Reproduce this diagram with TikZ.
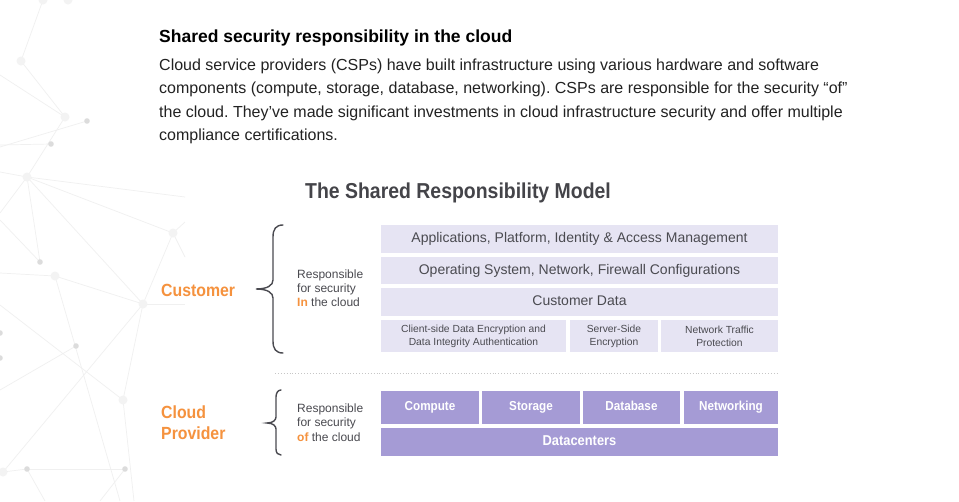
\documentclass[tikz,border=0pt]{standalone}
\usepackage{fontspec}
\setmainfont{Liberation Sans}
\newfontfamily\narrowsf[FakeStretch=0.9]{Liberation Sans}
\definecolor{lav}{HTML}{E6E4F3}
\definecolor{purp}{HTML}{A59BD5}
\definecolor{org}{HTML}{F5923E}
\definecolor{txt}{HTML}{4A4A50}
\definecolor{body}{HTML}{222222}
\definecolor{titlec}{HTML}{444449}
\definecolor{netline}{HTML}{F0F0F0}
\definecolor{netdot}{HTML}{DCDCDC}
\definecolor{netbig}{HTML}{F3F3F3}
\frenchspacing
\begin{document}
\begin{tikzpicture}[x=1pt,y=-1pt,
  lbox/.style={fill=lav, inner sep=0, text=txt, align=center, text height=10pt, text depth=3pt, font=\fontsize{14}{16}\selectfont},
  sbox/.style={fill=lav, inner sep=0, text=txt, align=center, font=\fontsize{10.3}{12.3}\selectfont},
  pbox/.style={fill=purp, inner sep=0, text=white, align=center, text height=9.5pt, text depth=2.8pt, font=\narrowsf\bfseries\fontsize{13}{15}\selectfont},
  para/.style={anchor=base west, inner sep=0, text=body, font=\fontsize{16}{20}\selectfont},
  resp/.style={anchor=base west, inner sep=0, text=txt, font=\fontsize{12}{14}\selectfont},
  who/.style={anchor=base west, inner sep=0, text=org, font=\narrowsf\bfseries\fontsize{17.6}{21}\selectfont},
  bracepath/.style={draw=txt, line width=1.4pt, line cap=round},
  netl/.style={draw=netline, line width=0.7pt}
]
\useasboundingbox (0,0) rectangle (959,501);
\fill[white] (0,0) rectangle (959,501);

% ---------- decorative background network ----------
\coordinate (n1) at (43,0);
\coordinate (n2) at (68,0);
\coordinate (n3) at (21,61);
\coordinate (n4) at (65,117);
\coordinate (n5) at (87,121);
\coordinate (n6) at (51,144);
\coordinate (n7) at (27,177);
\coordinate (n8) at (40,262);
\coordinate (n9) at (55,276);
\coordinate (n10) at (143,304);
\coordinate (n11) at (0,333);
\coordinate (n12) at (0,358);
\coordinate (n13) at (76,346);
\coordinate (n14) at (123,400);
\coordinate (n15) at (27,469);
\coordinate (n16) at (125,469);
\coordinate (n17) at (3,472);
\coordinate (n18) at (173,233);
\begin{scope}
\clip (0,0) rectangle (959,501);
\draw[netl] (n1) -- (n3) -- (n4);
\draw[netl] (0,75) -- (n4);
\draw[netl] (0,147) -- (n5);
\draw[netl] (0,145) -- (n6);
\draw[netl] (n4) -- (n7);
\draw[netl] (0,172) -- (n7);
\draw[netl] (0,213) -- (n7);
\draw[netl] (n7) -- (185,197);
\draw[netl] (n7) -- (n18);
\draw[netl] (n7) -- (n8);
\draw[netl] (0,220) -- (n8);
\draw[netl] (n7) -- (n10);
\draw[netl] (0,273) -- (n9);
\draw[netl] (n9) -- (n10);
\draw[netl] (n9) -- (120,501);
\draw[netl] (n10) -- (n14);
\draw[netl] (0,305) -- (n14);
\draw[netl] (n14) -- (134,501);
\draw[netl] (n10) -- (n17);
\draw[netl] (n10) -- (185,304);
\draw[netl] (n18) -- (n10);
\draw[netl] (n18) -- (185,222);
\draw[netl] (n18) -- (185,257);
\draw[netl] (n13) -- (0,390);
\draw[netl] (n15) -- (n16);
\draw[netl] (n15) -- (n17);
\draw[netl] (n15) -- (45,501);
\draw[netl] (n16) -- (100,501);
\foreach \c in {n1,n2,n3,n4,n7,n9,n10,n14,n17,n18} \fill[netbig] (\c) circle (4.5pt);
\foreach \c in {n5,n6,n8,n11,n12,n13,n15,n16} \fill[netdot] (\c) circle (2.8pt);
\end{scope}

% ---------- text ----------
\node[anchor=base west, inner sep=0, text=black, font=\bfseries\fontsize{17.5}{22}\selectfont] (head) at (159,42) {Shared security responsibility in the cloud};
\node[para] (p1) at (159,70) {Cloud service providers (CSPs) have built infrastructure using various hardware and software};
\node[para] (p2) at (159,93.5) {components (compute, storage, database, networking). CSPs are responsible for the security “of”};
\node[para] (p3) at (159,117) {the cloud. They’ve made significant investments in cloud infrastructure security and offer multiple};
\node[para] (p4) at (159,140) {compliance certifications.};

\node[anchor=base, inner sep=0, text=titlec, font=\narrowsf\bfseries\fontsize{21.6}{26}\selectfont] (title) at (458,198) {The Shared Responsibility Model};

% ---------- customer ----------
\node[who] (cust) at (161,296) {Customer};
\draw[bracepath] (283,225) .. controls (276,225) and (273,229) .. (273,237) -- (273,280) .. controls (273,285) and (268,289) .. (256,289) .. controls (268,289) and (273,293) .. (273,298) -- (273,341) .. controls (273,349) and (276,353) .. (283,353);
\node[resp] (r1) at (297,278.3) {Responsible};
\node[resp] (r2) at (297,292.7) {for security};
\node[resp] (r3) at (297,306.5) {\textcolor{org}{\bfseries In} the cloud};

\node[lbox, minimum width=397pt, minimum height=27.5pt] (app) at (579.5,239) {Applications, Platform, Identity \& Access Management};
\node[lbox, minimum width=397pt, minimum height=27pt] (os) at (579.5,270.8) {Operating System, Network, Firewall Configurations};
\node[lbox, minimum width=397pt, minimum height=28pt] (cd) at (579.5,301.8) {Customer Data};
\node[sbox, minimum width=185pt, minimum height=32pt] (cse) at (473.5,336.2) {Client-side Data Encryption and\\Data Integrity Authentication};
\node[sbox, minimum width=88pt, minimum height=32pt] (sse) at (614,336.2) {Server-Side\\Encryption};
\node[sbox, minimum width=117pt, minimum height=32pt] (ntp) at (719.5,336.2) {Network Traffic\\Protection};

% ---------- separator ----------
\coordinate (sepL) at (275,373);
\coordinate (sepR) at (778,373);
\draw[draw=gray!45, dotted, line width=0.9pt] (sepL) -- (sepR);

% ---------- cloud provider ----------
\node[who] (cp1) at (161,418) {Cloud};
\node[who] (cp2) at (161,439) {Provider};
\draw[bracepath] (281,390) .. controls (278,390) and (276,393) .. (276,397) -- (276,417) .. controls (276,420) and (273,423) .. (267,423) .. controls (273,423) and (276,426) .. (276,429) -- (276,449) .. controls (276,453) and (278,455) .. (281,455);
\node[resp] (q1) at (297,412.3) {Responsible};
\node[resp] (q2) at (297,426.7) {for security};
\node[resp] (q3) at (297,441) {\textcolor{org}{\bfseries of} the cloud};

\node[pbox, minimum width=98pt, minimum height=33pt] (comp) at (430,407.5) {Compute};
\node[pbox, minimum width=98pt, minimum height=33pt] (stor) at (531,407.5) {Storage};
\node[pbox, minimum width=97pt, minimum height=33pt] (db) at (631.5,407.5) {Database};
\node[pbox, minimum width=94pt, minimum height=33pt] (net) at (731,407.5) {Networking};
\node[pbox, minimum width=397pt, minimum height=28pt, text height=10.3pt, text depth=3pt, font=\narrowsf\bfseries\fontsize{14.3}{16}\selectfont] (dc) at (579.5,441.7) {Datacenters};
\end{tikzpicture}
\end{document}
